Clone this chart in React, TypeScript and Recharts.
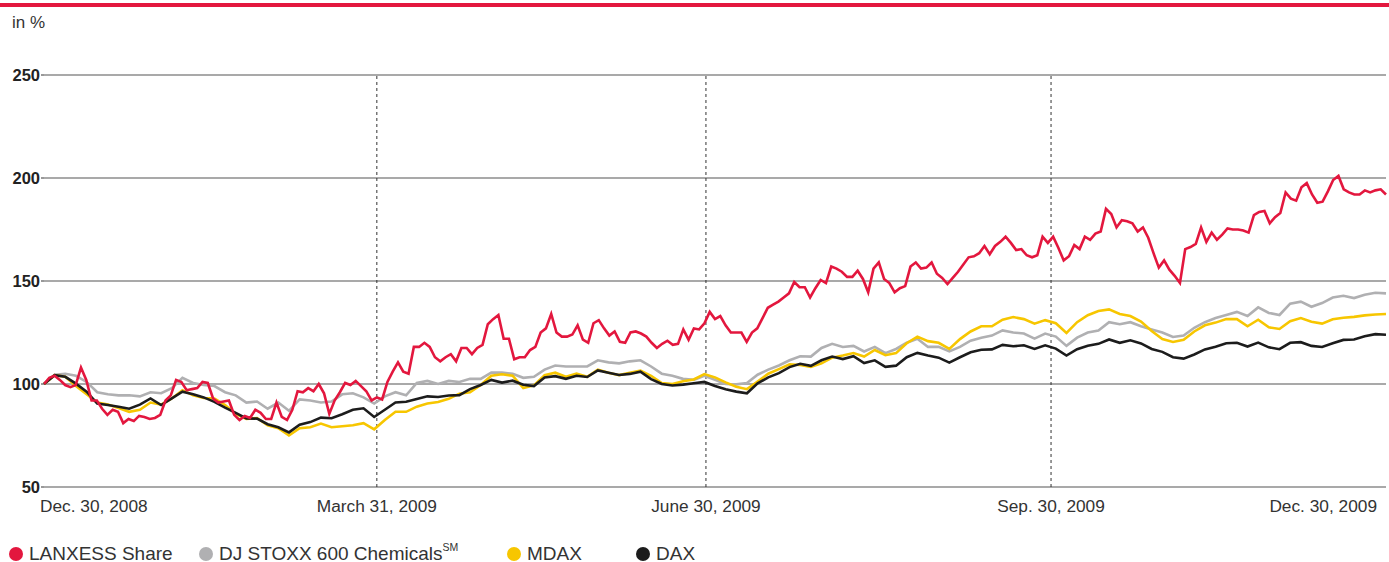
import React from "react";
import { LineChart, Line, XAxis, YAxis, CartesianGrid, ReferenceLine } from "recharts";

// Trading days from Dec. 30, 2008 (day 0) to Dec. 30, 2009
const TOTAL_DAYS = 252;
const quarterTickDays = [0, 62.5, 124.3, 189.1, 252];
const quarterTickLabels = ["Dec. 30, 2008", "March 31, 2009", "June 30, 2009", "Sep. 30, 2009", "Dec. 30, 2009"];
const quarterLineDays = [62.5, 124.3, 189.1];
const yTicks = [50, 100, 150, 200, 250];

// LANXESS share, daily, indexed (Dec. 30, 2008 = 100)
const lanxess = [
  100, 103, 104, 102, 99.5, 98.5, 99.5, 108, 102, 92, 92, 88, 85, 87.5, 86.5, 81, 83, 82, 84.5, 84, 83, 83.5, 85, 92, 94.5, 102, 101, 97, 97.5, 98, 101, 100.5, 93, 91, 91.5, 92, 85, 82.5, 84.5, 83.5, 87.5, 86, 83,
  83, 91, 84, 82.5, 87.5, 96.5, 96, 98, 96.5, 100, 95.5, 85.5, 92, 96, 100.5, 99.5, 101.5, 99, 96.5, 92, 93.5, 92.5, 101, 106, 110.5, 106, 105, 118, 118, 120, 118, 113, 111, 113, 114.5, 111, 117.5, 117.5, 114.5, 117.5, 119, 129,
  131.5, 133.5, 122, 122, 112, 113, 113, 116.5, 118, 125, 127, 134, 125, 123, 123, 124, 128.5, 121.5, 120, 129.5, 131, 127, 123.5, 125.5, 120.5, 120, 125, 125.5, 124.5, 123, 120, 117.5, 119.5, 121, 119, 119.5, 126.5, 121.5, 127, 126.5, 129.5, 135, 131.5,
  133, 128.5, 125, 125, 125, 120.5, 125, 127, 132, 137, 138.5, 140, 142, 144, 149.5, 147, 147, 142, 146.5, 150.5, 149, 157, 156, 154.5, 152, 152, 155, 151, 144.5, 156, 159, 151, 149, 144.5, 146.5, 147.5, 157, 159, 156, 156.5, 159,
  153.5, 151.5, 148.5, 151.5, 154.5, 158, 161.5, 162, 163.5, 167, 163, 167, 169, 171.5, 168.5, 165, 165.5, 162.5, 161.5, 162.5, 171.5, 168.5, 171.5, 166, 160, 162, 167.5, 165.5, 171.5, 170, 173, 174, 185, 182.5, 176, 179.5, 179, 178, 174, 176, 171, 163.5, 156.5,
  160, 155.5, 152.5, 149, 165.5, 166.5, 168, 176, 169, 173.5, 170, 172.5, 175.5, 175, 175, 174.5, 173.5, 182, 183.5, 184, 178, 181, 183, 193, 190, 189, 195.5, 197.5, 192, 188, 188.5, 193.5, 199, 201, 194.5, 193, 192, 192, 194, 193, 194, 194.5, 192,
];

// DJ STOXX 600 Chemicals, every 2nd trading day
const stoxxChemicals = [
  100, 104.5, 105, 104, 101, 96, 95, 94.5, 94.5, 94, 96, 95.5, 98, 103, 100.5, 99.5, 99, 96, 94.5, 91, 91.5,
  88, 91, 87, 92.5, 92, 91, 91.5, 95, 95.5, 93.5, 90.5, 94, 96, 94.5, 100.5, 101.5, 100, 101.5, 101, 102.5,
  102.5, 105.5, 105.5, 105, 103, 103.5, 107, 109, 108.5, 108.5, 108.5, 111.5, 110.5, 110, 111, 111.5, 108.5, 105, 104, 102.5,
  102, 104, 102, 100, 99.8, 100.5, 104.5, 107, 109, 111.5, 113.5, 113.3, 117.5, 119.5, 118, 118.5, 115.8, 118, 115, 117,
  120, 122, 118, 118, 115.8, 118, 121, 122.5, 123.5, 126, 125, 124.5, 122, 124.5, 123, 118.5, 122.5, 125, 126, 130,
  129, 130, 128, 126.5, 125, 122.8, 123.5, 127.3, 130, 132, 133.5, 135, 133, 137.2, 134.5, 133.5, 139, 140, 137.5, 139.3,
  142, 142.8, 141.7, 143.3, 144.3, 144,
];

// MDAX, every 2nd trading day
const mdax = [
  100, 104.3, 103.5, 99, 95, 91, 90, 88.3, 86.5, 87.5, 91, 90, 93, 97, 94.5, 93.2, 93, 89.8, 85.5, 83, 83.5,
  80, 78.5, 75, 78.5, 79, 80.8, 79, 79.5, 80, 81, 78, 82.5, 86.5, 86.5, 89, 90.5, 91.3, 92.8, 95.3, 96,
  99.5, 104, 104.7, 104, 98, 99.3, 104.3, 105.5, 103.5, 105, 103.5, 107, 105.5, 104.3, 105.4, 106.5, 104, 100.5, 100, 101.3,
  102.2, 104.8, 103.2, 100.8, 98.7, 97.5, 101.2, 105, 107.2, 109.5, 109.2, 108.3, 110, 112.8, 113.8, 115, 113.3, 116.5, 114, 115,
  119.8, 123, 120.8, 120, 117, 121.8, 125.5, 128, 128, 131.2, 132.5, 131.5, 129.3, 131, 129.5, 124.8, 130, 133.4, 135.4, 136.2,
  134, 133, 130.3, 125.7, 121.8, 120.4, 121.5, 125.5, 128.5, 129.8, 131.5, 131.5, 128, 131.2, 127.5, 126.7, 130.5, 132, 130.2, 129.3,
  131.4, 132.2, 132.6, 133.3, 133.7, 134,
];

// DAX, every 2nd trading day
const dax = [
  100, 104.3, 103.5, 100.2, 96.3, 90.5, 89.8, 89, 88, 90, 93, 89.8, 93, 96.3, 95, 93.5, 91.3, 88.5, 86, 83.3, 83.2,
  80.5, 79, 76.5, 80.2, 81.5, 83.7, 83.4, 85.3, 87.5, 88.2, 84, 87.5, 91, 91.4, 92.7, 94, 93.7, 94.4, 94.6, 97.5,
  99.5, 102, 100.7, 101.6, 99.6, 99, 103.2, 103.8, 102.5, 104, 103.4, 106.6, 105.5, 104.4, 104.9, 106, 102.4, 100, 99.3, 99.7,
  100.4, 101, 99, 97.4, 96.3, 95.5, 100.3, 103.2, 105.3, 108.2, 109.8, 108.8, 111.5, 113.3, 112.1, 113.5, 110.2, 111.5, 108.3, 108.9,
  113, 115.1, 113.8, 112.8, 110.4, 113, 115.4, 116.6, 116.8, 119, 118.3, 118.8, 117, 118.8, 117.2, 113.8, 116.9, 118.6, 119.5, 121.6,
  120, 121.2, 119.7, 117, 115.6, 113, 112.3, 114.3, 116.8, 118.1, 119.8, 120, 118.2, 120.1, 117.8, 116.9, 120, 120.3, 118.5, 118,
  119.8, 121.4, 121.6, 123.2, 124.2, 123.9,
];

const seriesNames = ["LANXESS Share", "DJ STOXX 600 Chemicals", "MDAX", "DAX"];
const seriesColors = ["#e3173e", "#b0b0b2", "#f7c600", "#1c1c1c"];

const FONT = "'Liberation Sans', Arial, Helvetica, sans-serif";

const toPoints = (values: number[]) =>
  values.map((v, i) => ({ day: (i * TOTAL_DAYS) / (values.length - 1), value: v }));

const XTick = (props: any) => {
  const { x, y, payload } = props;
  const idx = quarterTickDays.indexOf(payload.value);
  const last = quarterTickDays.length - 1;
  const anchor = idx === 0 ? "start" : idx === last ? "end" : "middle";
  return (
    <text x={x} y={y} dx={idx === 0 ? -4 : 0} dy={25} textAnchor={anchor} fill="#333" fontSize={17.3} fontFamily={FONT}>
      {quarterTickLabels[idx]}
    </text>
  );
};

const YTick = (props: any) => {
  const { x, y, payload } = props;
  return (
    <text x={x} y={y} dy={6} textAnchor="end" fill="#222" fontSize={16.5} fontWeight="bold" fontFamily={FONT}>
      {payload.value}
    </text>
  );
};

const legendWidths = [190, 308, 129, 120];

export default function App() {
  const series = [lanxess, stoxxChemicals, mdax, dax];
  const drawOrder = [1, 2, 3, 0];
  return (
    <div style={{ position: "absolute", left: 0, top: 0, width: 1389, height: 562, background: "#fff", fontFamily: FONT }}>
      <div style={{ position: "absolute", left: 0, top: 3, width: 1389, height: 3.5, background: "#e3173e" }} />
      <div style={{ position: "absolute", left: 12, top: 13, fontSize: 17, color: "#333", lineHeight: "20px" }}>in %</div>
      <LineChart width={1389} height={562} margin={{ top: 75, right: 3, bottom: 45, left: 0 }}>
        <CartesianGrid horizontal={true} vertical={false} stroke="#555" strokeWidth={1.2} />
        <XAxis
          dataKey="day"
          type="number"
          domain={[0, TOTAL_DAYS]}
          ticks={quarterTickDays}
          axisLine={false}
          tickLine={false}
          tickSize={0}
          tickMargin={0}
          height={30}
          tick={<XTick />}
          allowDuplicatedCategory={false}
        />
        <YAxis
          type="number"
          domain={[50, 250]}
          ticks={yTicks}
          width={44}
          axisLine={false}
          tickLine={{ stroke: "#555", strokeWidth: 1.2 }}
          tickSize={3}
          tickMargin={1}
          tick={<YTick />}
        />
        {quarterLineDays.map((d) => (
          <ReferenceLine key={d} x={d} stroke="#333" strokeWidth={1} strokeDasharray="3 3" />
        ))}
        {drawOrder.map((si) => (
          <Line
            key={seriesNames[si]}
            data={toPoints(series[si])}
            dataKey="value"
            type="linear"
            stroke={seriesColors[si]}
            strokeWidth={2.6}
            dot={false}
            activeDot={false}
            isAnimationActive={false}
          />
        ))}
      </LineChart>
      <div style={{ position: "absolute", left: 9, top: 544, height: 20, display: "flex", alignItems: "center" }}>
        {seriesNames.map((name, i) => (
          <div key={name} style={{ width: legendWidths[i], display: "flex", alignItems: "center" }}>
            <span style={{ width: 14, height: 14, borderRadius: 7, background: seriesColors[i], display: "inline-block", flexShrink: 0 }} />
            <span style={{ marginLeft: 6, fontSize: 19, color: "#333", whiteSpace: "nowrap" }}>
              {name}
              {i === 1 ? <sup style={{ fontSize: 10.5, verticalAlign: "9px", lineHeight: 0 }}>SM</sup> : null}
            </span>
          </div>
        ))}
      </div>
    </div>
  );
}
